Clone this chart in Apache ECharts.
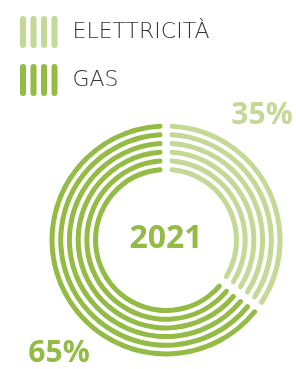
<!DOCTYPE html>
<html>
<head>
<meta charset="utf-8">
<script src="https://cdn.jsdelivr.net/npm/echarts@6/dist/echarts.min.js"></script>
<style>
  html, body { margin: 0; padding: 0; background: #fff; }
  #main { width: 296px; height: 369px; }
</style>
</head>
<body>
<div id="main"></div>
<script>
// dati
var categories = ["ELETTRICITÀ", "GAS"];
var values = [35, 65];
var year = "2021";
var colors = ["#c3d995", "#93bb45"];

var ringRadii = [114, 105.3, 96.6, 87.9, 79.2, 70.5]; // raggi delle 6 corone
var thick = 5;
var gapPx = 7;

// icona legenda: 4 barrette arrotondate
var bar = function (x) {
  return "M" + x + ",3 a3,3 0 0 1 6,0 v26 a3,3 0 0 1 -6,0 z ";
};
var legendIcon = "path://" + bar(0) + bar(10.5) + bar(21) + bar(31.5);

var chart = echarts.init(document.getElementById("main"));

var series = ringRadii.map(function (r) {
  return {
    type: "pie",
    center: [166, 240],
    radius: [r - thick / 2, r + thick / 2],
    startAngle: 90,
    clockwise: true,
    padAngle: (gapPx / r) * 180 / Math.PI,
    silent: true,
    label: { show: false },
    labelLine: { show: false },
    itemStyle: { borderRadius: thick / 2 },
    data: categories.map(function (c, i) {
      return { name: c, value: values[i], itemStyle: { color: colors[i] } };
    })
  };
});

chart.setOption({
  animation: false,
  legend: {
    orient: "vertical",
    left: 15,
    top: 11,
    itemWidth: 37.5,
    itemHeight: 32,
    itemGap: 16,
    icon: legendIcon,
    selectedMode: false,
    data: categories,
    textStyle: {
      fontFamily: "DejaVu Sans",
      fontSize: 22,
      fontWeight: 200,
      color: "#333",
      padding: [0, 0, 0, 10]
    }
  },
  graphic: [
    {
      type: "text",
      x: 166,
      y: 239,
      style: {
        text: year,
        fontFamily: "Open Sans",
        fontSize: 32,
        fontWeight: "bold",
        fill: colors[1],
        textAlign: "center",
        textVerticalAlign: "middle"
      }
    },
    {
      type: "text",
      x: 262,
      y: 115,
      style: {
        text: values[0] + "%",
        fontFamily: "Open Sans",
        fontSize: 30,
        fontWeight: "bold",
        fill: colors[0],
        textAlign: "center",
        textVerticalAlign: "middle"
      }
    },
    {
      type: "text",
      x: 59,
      y: 353,
      style: {
        text: values[1] + "%",
        fontFamily: "Open Sans",
        fontSize: 30,
        fontWeight: "bold",
        fill: colors[1],
        textAlign: "center",
        textVerticalAlign: "middle"
      }
    }
  ],
  series: series
});
</script>
</body>
</html>
